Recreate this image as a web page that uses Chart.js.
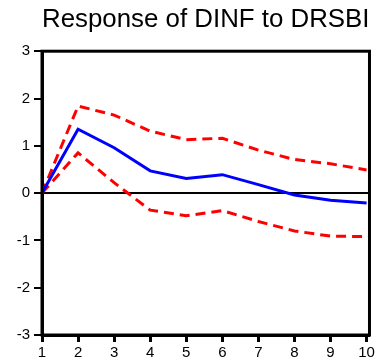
<!DOCTYPE html>
<html>
<head>
<meta charset="utf-8">
<script src="https://cdn.jsdelivr.net/npm/chart.js@4/dist/chart.umd.min.js"></script>
<style>
  html, body { margin: 0; padding: 0; background: #fff; }
  #wrap { width: 377px; height: 360px; }
</style>
</head>
<body>
<div id="wrap"><canvas id="chart" width="377" height="360"></canvas></div>
<script>
const periods = [1, 2, 3, 4, 5, 6, 7, 8, 9, 10];
const response = [0, 1.35, 0.96, 0.47, 0.31, 0.39, 0.18, -0.04, -0.15, -0.21];
const upperBand = [0, 1.84, 1.65, 1.31, 1.13, 1.16, 0.91, 0.71, 0.62, 0.49];
const lowerBand = [0, 0.85, 0.22, -0.36, -0.48, -0.37, -0.60, -0.80, -0.91, -0.92];
const yTicks = [-3, -2, -1, 0, 1, 2, 3];

const toPoints = (vals) => periods.map((p, i) => ({ x: p, y: vals[i] }));

// draws the closed frame around the plot area
const frame = {
    id: 'frame',
    afterDraw(chart) {
        const a = chart.chartArea, c = chart.ctx;
        c.save();
        c.strokeStyle = '#000';
        c.lineWidth = 3;
        c.strokeRect(a.left, a.top, a.right - a.left, a.bottom - a.top);
        c.restore();
    }
};

let ctx = document.getElementById('chart').getContext('2d');

new Chart(ctx, {
    type: 'line',
    data: {
        datasets: [{
            label: 'Response',
            data: toPoints(response),
            borderColor: '#0000ff',
            borderWidth: 3,
            pointRadius: 0,
            tension: 0,
            fill: false
        },
        {
            label: 'Upper',
            data: toPoints(upperBand),
            borderColor: '#ff0000',
            borderWidth: 3,
            borderDash: [10, 6],
            pointRadius: 0,
            tension: 0,
            fill: false
        },
        {
            label: 'Lower',
            data: toPoints(lowerBand),
            borderColor: '#ff0000',
            borderWidth: 3,
            borderDash: [10, 6],
            pointRadius: 0,
            tension: 0,
            fill: false
        }]
    },
    options: {
        responsive: false,
        animation: false,
        layout: { padding: { right: 6, left: 0, bottom: 0 } },
        scales: {
            x: {
                type: 'linear',
                min: 1,
                max: 10.08,
                afterBuildTicks: (s) => { s.ticks = periods.map(v => ({ value: v })); },
                afterFit: (s) => { s.height = 25; },
                border: { color: '#000', width: 3 },
                grid: { drawOnChartArea: false, tickLength: 7, tickWidth: 3, tickColor: '#000' },
                ticks: { color: '#000', padding: 2, maxRotation: 0, font: { family: 'Liberation Sans', size: 15 } }
            },
            y: {
                min: -3,
                max: 3,
                afterBuildTicks: (s) => { s.ticks = yTicks.map(v => ({ value: v })); },
                afterFit: (s) => { s.width = 42; },
                border: { color: '#000', width: 3 },
                grid: {
                    color: (c) => c.tick && c.tick.value === 0 ? '#000' : 'rgba(0,0,0,0)',
                    lineWidth: (c) => c.tick && c.tick.value === 0 ? 2 : 0,
                    tickLength: 8,
                    tickWidth: 2,
                    tickColor: '#000'
                },
                ticks: { color: '#000', padding: 4, font: { family: 'Liberation Sans', size: 15 } }
            }
        },
        plugins: {
            legend: { display: false },
            tooltip: { enabled: false },
            title: {
                display: true,
                fullSize: false,
                text: 'Response of DINF to DRSBI',
                color: '#000',
                font: { family: 'Liberation Sans', size: 26, weight: 'normal' },
                padding: { top: 4, bottom: 16 }
            }
        }
    },
    plugins: [frame]
});
</script>
</body>
</html>
